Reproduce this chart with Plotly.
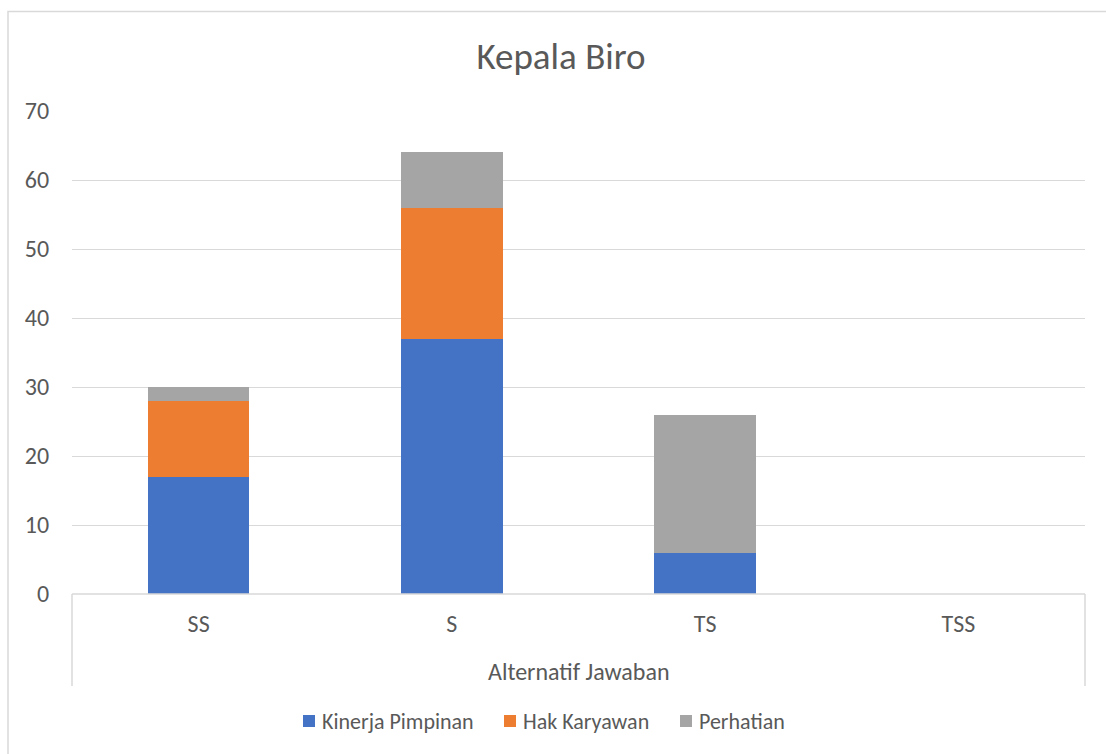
import plotly.graph_objects as go

categories = ["SS", "S", "TS", "TSS"]
kinerja_pimpinan = [17, 37, 6, 0]
hak_karyawan = [11, 19, 0, 0]
perhatian = [2, 8, 20, 0]
y_ticks = [0, 10, 20, 30, 40, 50, 60, 70]
series_names = ["Kinerja Pimpinan", "Hak Karyawan", "Perhatian"]
series_colors = ["#4472C4", "#ED7D31", "#A5A5A5"]

FONT = "Calibri, Carlito, Lato, sans-serif"
TXT = "#595959"
GRID = "#d9d9d9"

W, H = 1106, 754
L, R, T, B = 72, 1085, 111, 594
pw, ph = R - L, B - T

def px(x):
    return (x - L) / pw

def py(y):
    return (B - y) / ph

fig = go.Figure()
for name, vals, col in zip(series_names, [kinerja_pimpinan, hak_karyawan, perhatian], series_colors):
    fig.add_trace(go.Bar(x=categories, y=vals, name=name,
                         marker=dict(color=col, line=dict(width=0))))

# manual legend (Excel-style: small square close to text)
legend_square_x = [303, 504, 680]
legend_y = 721
shapes = [
    dict(type="line", xref="paper", yref="paper", x0=0, x1=1, y0=0, y1=0,
         line=dict(color=GRID, width=1.5)),
    dict(type="line", xref="paper", yref="paper", x0=0, x1=0, y0=0, y1=py(686),
         line=dict(color=GRID, width=1.5)),
    dict(type="line", xref="paper", yref="paper", x0=1, x1=1, y0=0, y1=py(686),
         line=dict(color=GRID, width=1.5)),
    dict(type="rect", xref="paper", yref="paper", x0=px(8), x1=px(1150),
         y0=py(800), y1=py(11.5), line=dict(color=GRID, width=1.5),
         fillcolor="rgba(0,0,0,0)", layer="below"),
]
annotations = [dict(text="Alternatif Jawaban", xref="paper", yref="paper",
                    x=0.5, y=py(671), xanchor="center", yanchor="middle",
                    showarrow=False, font=dict(size=24, color=TXT, family=FONT))]
for sx, name, col in zip(legend_square_x, series_names, series_colors):
    shapes.append(dict(type="rect", xref="paper", yref="paper",
                       x0=px(sx), x1=px(sx + 12), y0=py(legend_y + 6), y1=py(legend_y - 6),
                       fillcolor=col, line=dict(width=0)))
    annotations.append(dict(text=name, xref="paper", yref="paper",
                            x=px(sx + 17), y=py(legend_y), xanchor="left", yanchor="middle",
                            showarrow=False, font=dict(size=22, color=TXT, family=FONT)))

fig.update_layout(
    width=W, height=H,
    barmode="stack", bargap=0.6,
    plot_bgcolor="white", paper_bgcolor="white",
    margin=dict(l=L, r=W - R, t=T, b=H - B, pad=0),
    font=dict(family=FONT, color=TXT, size=24),
    title=dict(text="Kepala Biro", x=px(561), xref="paper", xanchor="center",
               y=1 - 56 / H, yanchor="middle",
               font=dict(size=37, color=TXT, family=FONT)),
    showlegend=False,
    xaxis=dict(showgrid=False, showline=False, zeroline=False, ticks="outside", ticklen=0,
               ticklabelstandoff=8, tickfont=dict(size=24, color=TXT)),
    yaxis=dict(range=[0, 70], tickvals=y_ticks, showgrid=True, gridcolor=GRID, gridwidth=1,
               zeroline=False, showline=False, ticks="outside", ticklen=0,
               ticklabelstandoff=17, tickfont=dict(size=24, color=TXT)),
    annotations=annotations,
    shapes=shapes,
)

fig.write_html("out.html")
